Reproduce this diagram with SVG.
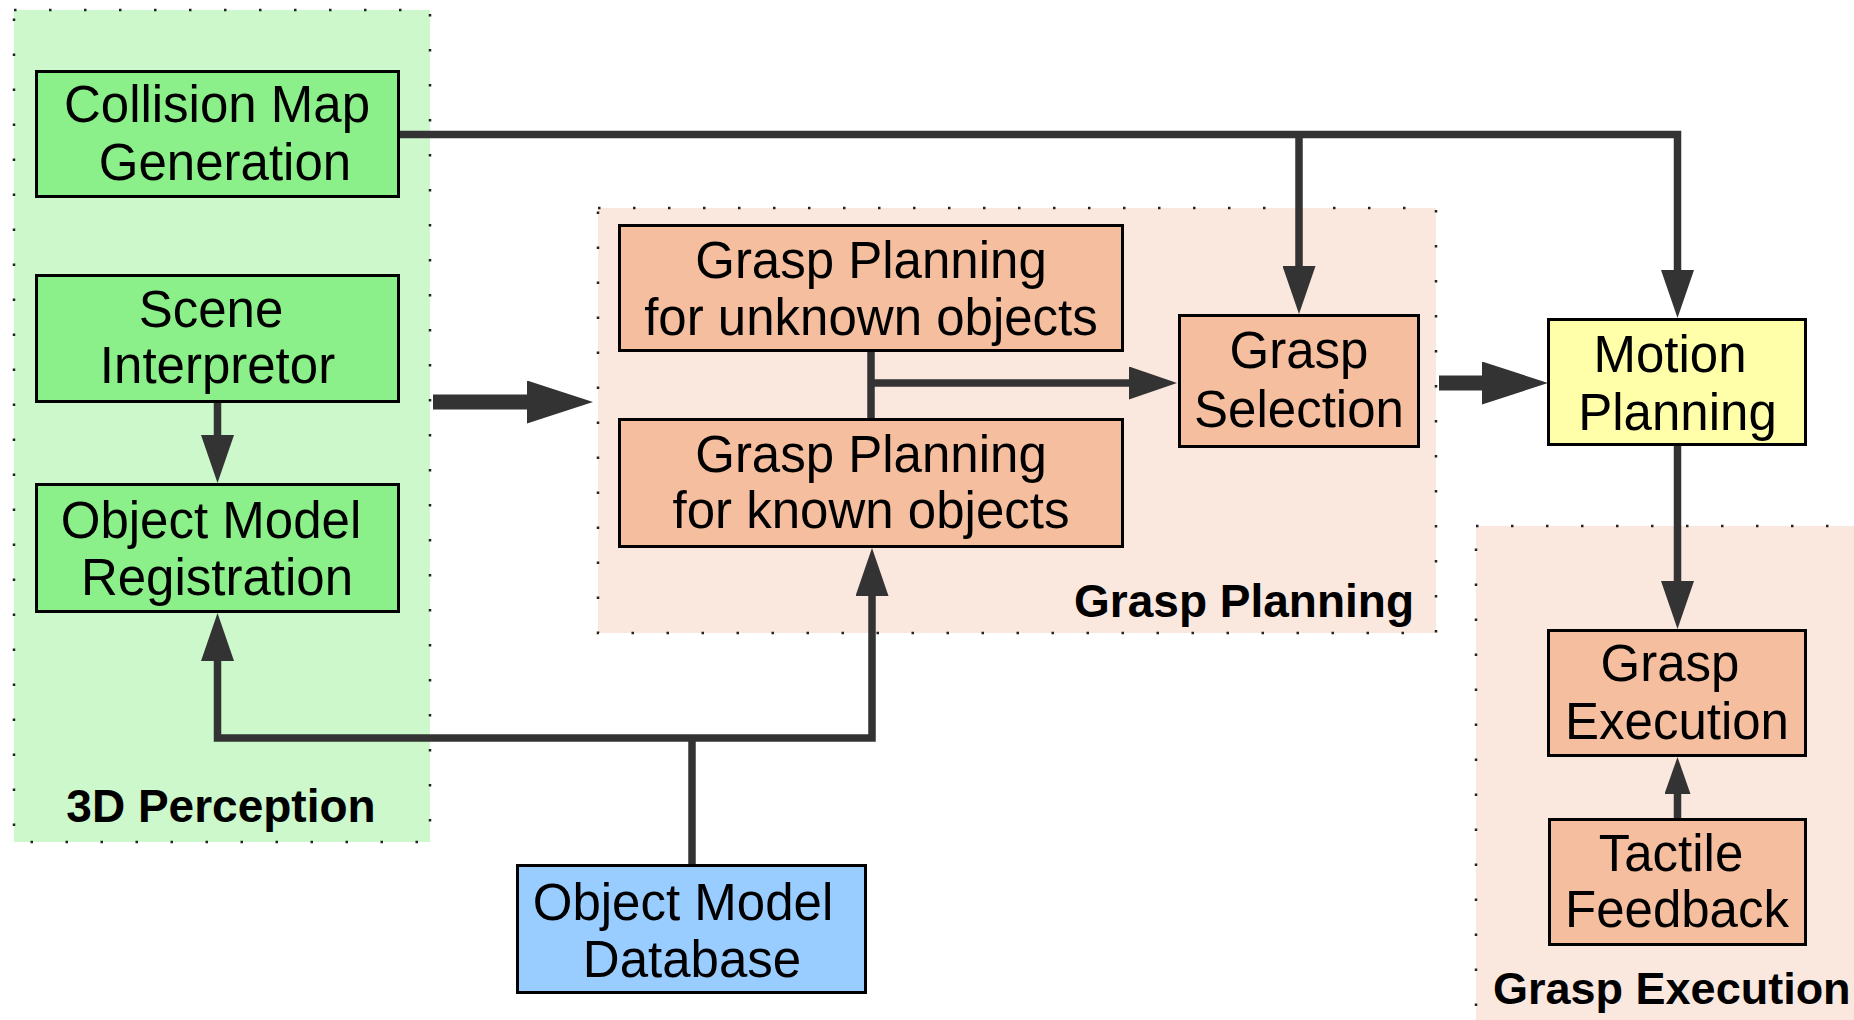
<svg xmlns="http://www.w3.org/2000/svg" width="1854" height="1020" viewBox="0 0 1854 1020">
  <style>
    .region-border { fill: none; stroke: #222; stroke-width: 2.5; stroke-dasharray: 2.5 32.5; }
    .box { stroke: #000; stroke-width: 3; }
    .green { fill: #8CF08A; }
    .salmon { fill: #F4BE9F; }
    .yellow { fill: #FFFFAA; }
    .blue { fill: #99CCFF; }
    .label { font-family: "Liberation Sans", Arial, sans-serif; font-size: 51px; fill: #000; text-anchor: middle; }
    .title { font-family: "Liberation Sans", Arial, sans-serif; font-size: 46px; font-weight: bold; fill: #000; }
    .wire { fill: none; stroke: #333; stroke-width: 7.5; stroke-linejoin: miter; }
    .thick { fill: none; stroke: #333; stroke-width: 15; }
  </style>
  <defs>
    <marker id="arrow" markerUnits="userSpaceOnUse" viewBox="0 0 48 33" markerWidth="48" markerHeight="33" refX="28" refY="16.5" orient="auto">
      <path d="M0,0 L48,16.5 L0,33 z" fill="#333"/>
    </marker>
    <marker id="arrow-small" markerUnits="userSpaceOnUse" viewBox="0 0 37 26" markerWidth="37" markerHeight="26" refX="22" refY="13" orient="auto">
      <path d="M0,0 L37,13 L0,26 z" fill="#333"/>
    </marker>
    <marker id="arrow-big" markerUnits="userSpaceOnUse" viewBox="0 0 66 43" markerWidth="66" markerHeight="43" refX="41" refY="21.5" orient="auto">
      <path d="M0,0 L66,21.5 L0,43 z" fill="#333"/>
    </marker>
  </defs>

  <rect width="1854" height="1020" fill="#fff"/>

  <!-- subsystem regions -->
  <g id="region-perception">
    <rect x="14" y="10" width="416" height="832" fill="#CCF8CC"/>
    <rect class="region-border" x="14" y="10" width="416" height="832"/>
    <text class="title" x="221" y="822" text-anchor="middle">3D Perception</text>
  </g>
  <g id="region-grasp-planning">
    <rect x="598" y="208" width="838" height="425" fill="#FAE7DE"/>
    <rect class="region-border" x="598" y="208" width="838" height="425"/>
    <text class="title" x="1414" y="617" text-anchor="end">Grasp Planning</text>
  </g>
  <g id="region-grasp-execution">
    <rect x="1476" y="526" width="420" height="520" fill="#FAE7DE"/>
    <rect class="region-border" x="1476" y="526" width="420" height="520"/>
    <text class="title" x="1493" y="1004" style="font-size:45px">Grasp Execution</text>
  </g>

  <!-- connectors -->
  <g id="connectors">
    <path class="wire" d="M400 134.5 H1677.5 V298" marker-end="url(#arrow)"/>
    <path class="wire" d="M1299 134.5 V294" marker-end="url(#arrow)"/>
    <path class="wire" d="M217.5 403 V463" marker-end="url(#arrow)"/>
    <path class="wire" d="M692 864 V738"/>
    <path class="wire" d="M692 738 H217.5 V633" marker-end="url(#arrow)"/>
    <path class="wire" d="M692 738 H872 V568" marker-end="url(#arrow)"/>
    <path class="wire" d="M871 352 V418"/>
    <path class="wire" d="M871 383 H1157" marker-end="url(#arrow)"/>
    <path class="thick" d="M433 402 H568" marker-end="url(#arrow-big)"/>
    <path class="thick" d="M1439 383 H1523" marker-end="url(#arrow-big)"/>
    <path class="wire" d="M1677.5 446 V609" marker-end="url(#arrow)"/>
    <path class="wire" d="M1677.5 818 V772" marker-end="url(#arrow-small)"/>
  </g>

  <!-- nodes -->
  <g id="collision-map-generation">
    <rect class="box green" x="36.5" y="71.5" width="362" height="125"/>
    <text class="label" x="217" y="122">Collision Map</text>
    <text class="label" x="225" y="180">Generation</text>
  </g>
  <g id="scene-interpretor">
    <rect class="box green" x="36.5" y="275.5" width="362" height="126"/>
    <text class="label" x="211" y="327">Scene</text>
    <text class="label" x="217.5" y="383">Interpretor</text>
  </g>
  <g id="object-model-registration">
    <rect class="box green" x="36.5" y="484.5" width="362" height="127"/>
    <text class="label" x="211" y="538">Object Model</text>
    <text class="label" x="217" y="595">Registration</text>
  </g>
  <g id="grasp-planning-unknown">
    <rect class="box salmon" x="619.5" y="225.5" width="503" height="125"/>
    <text class="label" x="871" y="278">Grasp Planning</text>
    <text class="label" x="871" y="335">for unknown objects</text>
  </g>
  <g id="grasp-planning-known">
    <rect class="box salmon" x="619.5" y="419.5" width="503" height="127"/>
    <text class="label" x="871" y="472">Grasp Planning</text>
    <text class="label" x="871" y="528">for known objects</text>
  </g>
  <g id="grasp-selection">
    <rect class="box salmon" x="1179.5" y="315.5" width="239" height="131"/>
    <text class="label" x="1299" y="368">Grasp</text>
    <text class="label" x="1299" y="427">Selection</text>
  </g>
  <g id="motion-planning">
    <rect class="box yellow" x="1548.5" y="319.5" width="257" height="125"/>
    <text class="label" x="1670" y="372">Motion</text>
    <text class="label" x="1677.5" y="430">Planning</text>
  </g>
  <g id="grasp-execution">
    <rect class="box salmon" x="1548.5" y="630.5" width="257" height="125"/>
    <text class="label" x="1670" y="681">Grasp</text>
    <text class="label" x="1677" y="739">Execution</text>
  </g>
  <g id="tactile-feedback">
    <rect class="box salmon" x="1549.5" y="819.5" width="256" height="125"/>
    <text class="label" x="1671" y="871">Tactile</text>
    <text class="label" x="1677" y="927">Feedback</text>
  </g>
  <g id="object-model-database">
    <rect class="box blue" x="517.5" y="865.5" width="348" height="127"/>
    <text class="label" x="683" y="920">Object Model</text>
    <text class="label" x="692" y="977">Database</text>
  </g>
</svg>
